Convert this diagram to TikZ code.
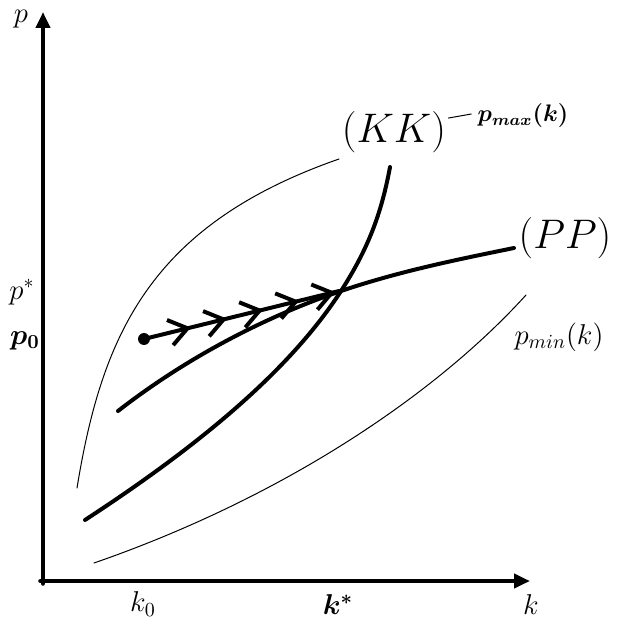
\documentclass[tikz,border=0pt]{standalone}
\usepackage{amsmath,amssymb,bm}
\usepackage{tikz}
\usetikzlibrary{arrows.meta,decorations.markings}
\tikzset{
every picture/.style={line cap=round,line join=round},
axis line/.style={
  line width=2.4pt,
  -{Triangle[length=8pt,width=7pt]}
},
thick curve/.style={line width=2pt},
thin curve/.style={line width=0.5pt},
fig label/.style={font=\Large, inner sep=1pt},
big label/.style={font=\fontsize{22}{26}\selectfont, inner sep=1pt},
bold label/.style={font=\large, inner sep=1pt},
path arrows/.style={
  line width=2pt,
  postaction={decorate},
  decoration={markings,
    mark=between positions 0.24 and 0.98 step 0.185 with {\arrow{Straight Barb[length=9pt,width=13pt]}}}
}
}

\begin{document}
\begin{tikzpicture}[x=0.5bp,y=-0.5bp]
\useasboundingbox (0,0) rectangle (617,618);
% axes
\coordinate (o) at (43,581);
\coordinate (ptop) at (43,12);
\coordinate (kend) at (530,581);
\draw[axis line] ([yshift=-1.2pt]o) -- (ptop);
\draw[axis line] ([xshift=-1.2pt]o) -- (kend);
\node[fig label] (plab) at (21,19) {$p$};
\node[fig label] (klab) at (531,605) {$k$};
\node[fig label] (k0) at (143,604) {$k_0$};
\node[fig label] (kstar) at (338,605) {$\bm{k^*}$};
\node[fig label] (pstar) at (22,292) {$p^*$};
\node[fig label] (p0) at (25,341) {$\bm{p_0}$};
% curve labels
\node[big label] (kk) at (394,132) {$(KK)$};
\node[bold label] (pmax) at (523,116) {$\bm{p_{max}(k)}$};
\node[big label, font=\fontsize{21}{25}\selectfont] (pp) at (565,238) {$(PP)$};
\node[fig label] (pmin) at (559,337) {$p_{min}(k)$};
\draw[thin curve] ([yshift=7pt]kk.east) -- ([xshift=-2pt,yshift=1pt]pmax.west);
% p_max and p_min
\draw[thin curve] (77,488) .. controls (102,335) and (150,225) .. (339,159);
\draw[thin curve] (94,563) .. controls (290,495) and (440,390) .. (526,295);
% (KK) and (PP) through the steady state
\coordinate (steady) at (341,291);
\draw[thick curve] (85,520) .. controls (200,445) and (290,370) .. (steady)
  .. controls (370,246) and (382,210) .. (390,167);
\draw[thick curve] (118,411) .. controls (190,355) and (270,315) .. (steady)
  .. controls (400,271) and (460,259) .. (514,248);
% path to the steady state
\node[circle, fill, inner sep=0pt, minimum size=6pt] (start) at (144,339) {};
\draw[path arrows] (start.center) -- ([xshift=-1pt]steady);
\end{tikzpicture}
\end{document}
